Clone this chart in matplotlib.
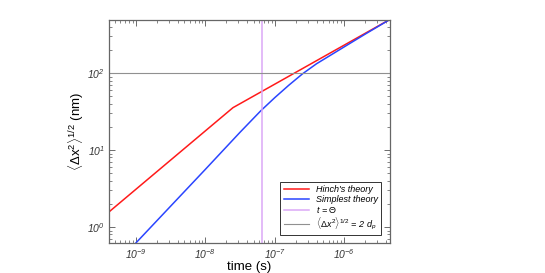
import numpy as np
import matplotlib
matplotlib.use('Agg')
import matplotlib.pyplot as plt
from matplotlib.ticker import LogLocator, FuncFormatter, NullFormatter

plt.rcParams['font.family'] = ['Liberation Sans', 'DejaVu Sans']
plt.rcParams['mathtext.fontset'] = 'custom'
plt.rcParams['mathtext.rm'] = 'Liberation Sans'
plt.rcParams['mathtext.it'] = 'Liberation Sans:italic'

# --- dados ---
t_hinch = [4.1e-10, 2.5e-8, 4.6e-6]
x_hinch = [1.57, 35.5, 500]

t_simples = [1e-9, 1e-8, 3.16e-8, 6.3e-8, 1.0e-7, 1.585e-7, 2.51e-7, 3.98e-7,
             6.31e-7, 1.0e-6, 2.0e-6, 4.6e-6]
x_simples = [0.62, 5.6, 17, 32.4, 47.9, 69.2, 97.7, 131.8, 169.8, 218.8, 320, 500]

theta = 6.5e-8      # t = Theta
dois_dp = 100       # 2 d_p (nm)

fig = plt.figure(figsize=(5.45, 2.73), dpi=100)
ax = fig.add_axes([0.2, 0.11, 0.516, 0.817])

ax.plot(t_hinch, x_hinch, color='#ff1a1a', lw=1.1, label="Hinch's theory")
ax.plot(t_simples, x_simples, color='#2a45ff', lw=1.1, label='Simplest theory')
ax.axvline(theta, color='#dba8f7', lw=1.1, label=r'$t$ = $\Theta$')
ax.axhline(dois_dp, color='#909090', lw=0.8,
           label=r'$\langle\Delta x^2\rangle^{1/2}$ = 2 $d_p$')

ax.set_xscale('log')
ax.set_yscale('log')
ax.set_xlim(4.1e-10, 4.6e-6)
ax.set_ylim(0.62, 490)

def fmt_pot(v, pos):
    return r'$\mathregular{10^{%d}}$' % int(round(np.log10(v)))

for eixo in (ax.xaxis, ax.yaxis):
    eixo.set_major_locator(LogLocator(base=10))
    eixo.set_major_formatter(FuncFormatter(fmt_pot))
    eixo.set_minor_locator(LogLocator(base=10, subs=np.arange(2, 10)))
    eixo.set_minor_formatter(NullFormatter())

ax.tick_params(which='both', direction='in', top=True, right=True,
               colors='#555555', labelcolor='#333333', labelsize=7.5, pad=3)
ax.tick_params(which='major', length=4, width=0.6)
ax.tick_params(which='minor', length=2, width=0.5)
for s in ax.spines.values():
    s.set_color('#666666')
    s.set_linewidth(0.9)

# rotulos dos ticks em italico
for lab in ax.get_xticklabels() + ax.get_yticklabels():
    lab.set_fontstyle('italic')

ax.set_xlabel('time (s)', fontsize=9.5, labelpad=0)
ax.set_ylabel(r'$\mathrm{\langle\Delta x^2\rangle^{1/2}}$ (nm)', fontsize=9.5, labelpad=1)

leg = ax.legend(loc='lower right', bbox_to_anchor=(0.968, 0.036), borderaxespad=0,
                prop={'style': 'italic', 'size': 6.5}, handlelength=2.8,
                handletextpad=0.8, borderpad=0.35, labelspacing=0.05,
                fancybox=False, framealpha=1)
leg.get_frame().set_edgecolor('#333333')
leg.get_frame().set_linewidth(0.7)

plt.savefig('out.png', dpi=100)
